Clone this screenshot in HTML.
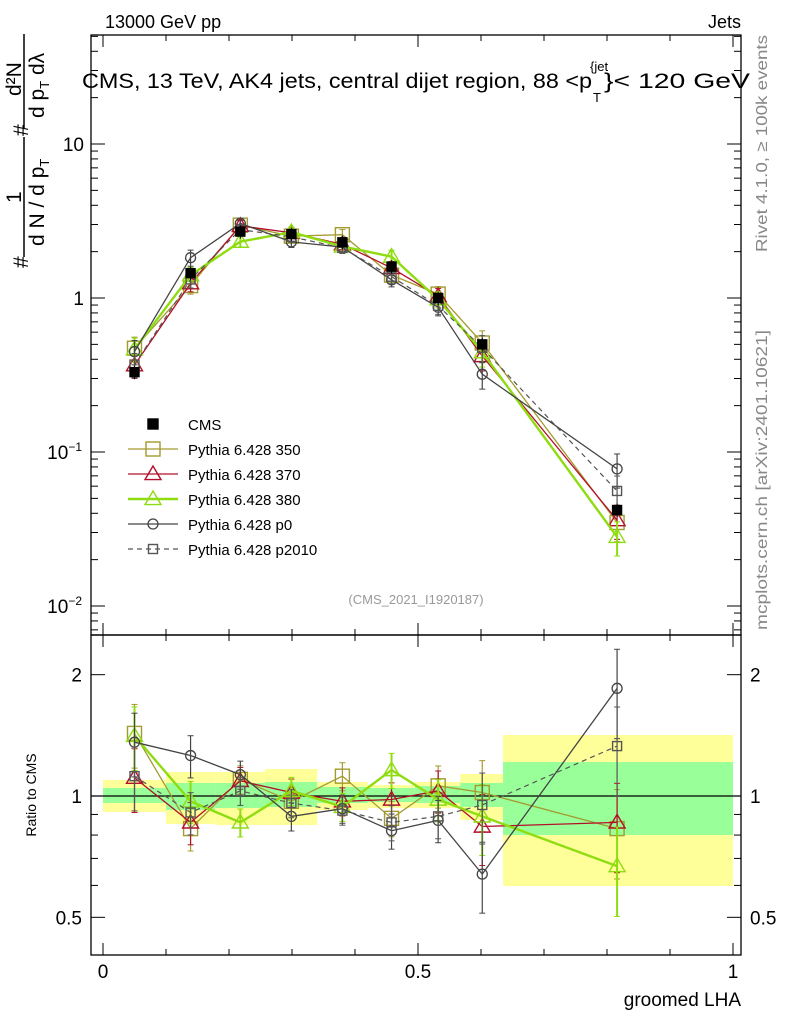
<!DOCTYPE html>
<html><head><meta charset="utf-8"><style>
body{margin:0;background:#fff;}
svg{font-family:"Liberation Sans",sans-serif;}
</style></head><body>
<svg id="c" width="786" height="1024" viewBox="0 0 786 1024" xmlns="http://www.w3.org/2000/svg">
<text x="105" y="28" font-size="18">13000 GeV pp</text>
<text x="741" y="28" font-size="18" text-anchor="end">Jets</text>
<g>
<text x="82" y="88" font-size="21" textLength="510" lengthAdjust="spacingAndGlyphs">CMS, 13 TeV, AK4 jets, central dijet region, 88 &lt;p</text>
<text x="590" y="71" font-size="13">{jet</text>
<text x="593" y="102" font-size="13">T</text>
<text x="604" y="88" font-size="21" textLength="146" lengthAdjust="spacingAndGlyphs">}&lt; 120 GeV</text>
</g>
<g font-size="21">
<text transform="translate(28,268) rotate(-90)">#</text>
<text transform="translate(21,203) rotate(-90)">1</text>
<line x1="24" y1="137" x2="24" y2="257" stroke="#000" stroke-width="1.5"/>
<text transform="translate(44,246) rotate(-90)">d N / d p<tspan font-size="13" dy="5">T</tspan></text>
<text transform="translate(28,136) rotate(-90)">#</text>
<text transform="translate(21,96) rotate(-90)">d²N</text>
<line x1="24" y1="34" x2="24" y2="128" stroke="#000" stroke-width="1.5"/>
<text transform="translate(44,118) rotate(-90)">d p<tspan font-size="13" dy="5">T</tspan><tspan dy="-5"> dλ</tspan></text>
</g>
<text transform="translate(767,252) rotate(-90)" font-size="16" fill="#888" textLength="217" lengthAdjust="spacingAndGlyphs">Rivet 4.1.0, ≥ 100k events</text>
<text transform="translate(767,630) rotate(-90)" font-size="16" fill="#888" textLength="300" lengthAdjust="spacingAndGlyphs">mcplots.cern.ch [arXiv:2401.10621]</text>
<text x="416" y="604" font-size="13" fill="#999" text-anchor="middle">(CMS_2021_I1920187)</text>
<text transform="translate(36,795) rotate(-90)" font-size="14" text-anchor="middle">Ratio to CMS</text>
<text x="741" y="1006" font-size="19" text-anchor="end">groomed LHA</text>
<g id="bands"></g><g id="axes"></g><g id="series"></g><g id="legend"></g>
</svg>
<script>
const edges=[0,0.1,0.178,0.257,0.34,0.42,0.495,0.567,0.635,1.0];
const centers=[0.05,0.139,0.218,0.299,0.38,0.458,0.532,0.602,0.816];
const cmsVals=[0.33,1.45,2.7,2.6,2.3,1.6,1.0,0.5,0.042];
const yellowHi=[1.096,1.147,1.147,1.167,1.083,1.065,1.083,1.134,1.417];
const yellowLo=[0.913,0.852,0.847,0.847,0.923,0.934,0.934,0.872,0.598];
const greenHi=[1.047,1.077,1.077,1.083,1.053,1.047,1.059,1.077,1.214];
const greenLo=[0.961,0.923,0.934,0.939,0.961,0.966,0.961,0.939,0.80];
const r350=[1.43,0.83,1.1,0.97,1.12,0.88,1.06,1.02,0.83];
const r370=[1.11,0.86,1.09,1.02,0.97,0.98,1.03,0.84,0.86];
const r380=[1.41,0.97,0.86,1.03,0.94,1.16,0.98,0.89,0.67];
const rp0=[1.36,1.26,1.13,0.89,0.93,0.82,0.87,0.64,1.85];
const rp2010=[1.12,0.91,1.03,0.96,0.92,0.86,0.89,0.95,1.33];
const relErr=[0.18,0.12,0.08,0.08,0.08,0.1,0.12,0.2,0.25];

const NS='http://www.w3.org/2000/svg';
const X=v=>103+630*v;
const YM=v=>298-154*Math.log10(v);
const YR=v=>796-403*Math.log10(v);
function mk(tag,attrs,parent){const e=document.createElementNS(NS,tag);for(const k in attrs)e.setAttribute(k,attrs[k]);parent.appendChild(e);return e;}
const bands=document.getElementById('bands'),axes=document.getElementById('axes'),ser=document.getElementById('series'),leg=document.getElementById('legend');
for(let i=0;i<9;i++){
 const y=mk('rect',{x:X(edges[i]),width:X(edges[i+1])-X(edges[i]),y:YR(yellowHi[i]),height:YR(yellowLo[i])-YR(yellowHi[i]),fill:'#ffff99'},bands);
 
 
 const g=mk('rect',{x:X(edges[i]),width:X(edges[i+1])-X(edges[i]),y:YR(greenHi[i]),height:YR(greenLo[i])-YR(greenHi[i]),fill:'#99ff99'},bands);
 
 
}
mk('line',{x1:91,x2:741,y1:YR(1),y2:YR(1),stroke:'#000','stroke-width':1.2},axes);
const f1=mk('rect',{x:91,y:35,width:650,height:600,fill:'none',stroke:'#000','stroke-width':1.3},axes);


const f2=mk('rect',{x:91,y:635,width:650,height:320,fill:'none',stroke:'#000','stroke-width':1.3},axes);


for(let k=0;k<=10;k++){const v=k/10,x=X(v),L=(k%5==0)?12:6;
 for(const [a,b] of [[35,635],[635,955]]){mk('line',{x1:x,x2:x,y1:a,y2:a+L,stroke:'#000'},axes);mk('line',{x1:x,x2:x,y1:b,y2:b-L,stroke:'#000'},axes);}
}
const xt=[['0',0],['0.5',0.5],['1',1]];
for(const [t,v] of xt){const e=mk('text',{x:X(v),y:978,'font-size':19,'text-anchor':'middle'},axes);e.textContent=t;
 
 }
for(let d=-3;d<=1;d++)for(let m=1;m<10;m++){const v=m*Math.pow(10,d),y=YM(v);if(y<35||y>635)continue;const L=m==1?14:7;
 mk('line',{x1:91,x2:91+L,y1:y,y2:y,stroke:'#000'},axes);mk('line',{x1:741,x2:741-L,y1:y,y2:y,stroke:'#000'},axes);}
const ymt=[[10,'10'],[1,'1'],[0.1,'10<tspan font-size="12" dy="-8">−1</tspan>'],[0.01,'10<tspan font-size="12" dy="-8">−2</tspan>']];
for(const [v,t] of ymt){const e=mk('text',{x:v>=1?84:82,y:YM(v)+7,'font-size':19,'text-anchor':'end'},axes);e.innerHTML=t;
 
 }
for(const v of [0.5,0.6,0.7,0.8,0.9,1,2]){const y=YR(v),L=(v==0.5||v==1||v==2)?14:7;
 mk('line',{x1:91,x2:91+L,y1:y,y2:y,stroke:'#000'},axes);mk('line',{x1:741,x2:741-L,y1:y,y2:y,stroke:'#000'},axes);}
for(const [v,t] of [[2,'2'],[1,'1'],[0.5,'0.5']]){for(const side of [0,1]){const e=mk('text',{x:side?750:82,y:YR(v)+7,'font-size':19,'text-anchor':side?'start':'end'},axes);e.textContent=t;
 
 }}
const specs=[
 {name:'Pythia 6.428 350',r:r350,col:'#a39b2f',w:1.3,mk:'sq',s:7,dash:''},
 {name:'Pythia 6.428 370',r:r370,col:'#b3102b',w:1.3,mk:'tri',s:8,dash:''},
 {name:'Pythia 6.428 380',r:r380,col:'#8fdc10',w:2.4,mk:'tri',s:8,dash:''},
 {name:'Pythia 6.428 p0',r:rp0,col:'#444',w:1.3,mk:'circ',s:5,dash:''},
 {name:'Pythia 6.428 p2010',r:rp2010,col:'#555',w:1.2,mk:'sq',s:4.5,dash:'5,4'}];
function marker(type,x,y,s,col,g,fill){
 if(type=='sq')return mk('rect',{x:x-s,y:y-s,width:2*s,height:2*s,fill:fill||'none',stroke:col,'stroke-width':1.4},g);
 if(type=='tri')return mk('polygon',{points:`${x},${y-s} ${x-s},${y+s*0.7} ${x+s},${y+s*0.7}`,fill:'none',stroke:col,'stroke-width':1.4},g);
 return mk('circle',{cx:x,cy:y,r:s,fill:'none',stroke:col,'stroke-width':1.3},g);
}
specs.forEach((sp,si)=>{
 const vals=cmsVals.map((c,i)=>c*sp.r[i]);
 for(const [Y,arr] of [[YM,vals],[YR,sp.r]]){
  const g=mk('g',{},ser);
  
  
  mk('polyline',{points:arr.map((v,i)=>X(centers[i])+','+Y(v)).join(' '),fill:'none',stroke:sp.col,'stroke-width':sp.w,'stroke-dasharray':sp.dash},g);
  arr.forEach((v,i)=>{const x=X(centers[i]),e=relErr[i];
   mk('line',{x1:x,x2:x,y1:Y(v*(1+e)),y2:Y(v*(1-e)),stroke:sp.col,'stroke-width':sp.w>2?2:1.2},g);
   mk('line',{x1:x-3,x2:x+3,y1:Y(v*(1+e)),y2:Y(v*(1+e)),stroke:sp.col},g);
   mk('line',{x1:x-3,x2:x+3,y1:Y(v*(1-e)),y2:Y(v*(1-e)),stroke:sp.col},g);
   const m=marker(sp.mk,x,Y(v),sp.s,sp.col,g);
   
   });
 }
 const ly=449+25*si,lg=mk('g',{},leg);
 
 
 mk('line',{x1:128,x2:178,y1:ly,y2:ly,stroke:sp.col,'stroke-width':sp.w,'stroke-dasharray':sp.dash},lg);
 marker(sp.mk,153,ly,sp.s,sp.col,lg);
 const t=mk('text',{x:188,y:ly+6,'font-size':15},lg);t.textContent=sp.name;
});
cmsVals.forEach((v,i)=>{const x=X(centers[i]);
 mk('line',{x1:x,x2:x,y1:YM(v*1.1),y2:YM(v*0.9),stroke:'#000'},ser);
 const m=marker('sq',x,YM(v),4.5,'#000',ser,'#000');
 
 });
const cl=mk('g',{},leg);


marker('sq',153,424,5,'#000',cl,'#000');
const ct=mk('text',{x:188,y:430,'font-size':15},cl);ct.textContent='CMS';
</script>
</body></html>
